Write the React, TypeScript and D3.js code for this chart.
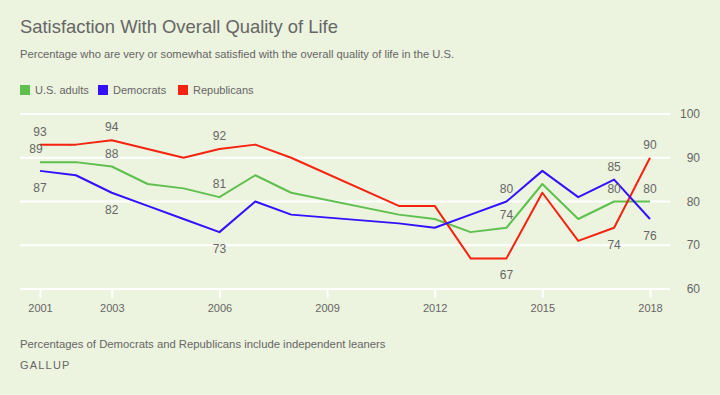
import { useEffect, useRef } from "react";
import * as d3 from "d3";

// Gallup - satisfaction with overall quality of life
const years = [2001, 2002, 2003, 2004, 2005, 2006, 2007, 2008, 2011, 2012, 2013, 2014, 2015, 2016, 2017, 2018];
const adults = [89, 89, 88, 84, 83, 81, 86, 82, 77, 76, 73, 74, 84, 76, 80, 80];
const democrats = [87, 86, 82, 79, 76, 73, 80, 77, 75, 74, 77, 80, 87, 81, 85, 76];
const republicans = [93, 93, 94, 92, 90, 92, 93, 90, 79, 79, 67, 67, 82, 71, 74, 90];

const xTicks = [2001, 2003, 2006, 2009, 2012, 2015, 2018];
const yTicks = [60, 70, 80, 90, 100];

const seriesNames = ["U.S. adults", "Democrats", "Republicans"];
const colors = ["#5fc04f", "#3311ff", "#f5230f"];

// which years get a value label, and whether it sits above ("a") or below ("b")
const labelYears = [2001, 2003, 2006, 2014, 2017, 2018];
const labelPos = [
  ["a", "a", "a", "a", "a", "a"],
  ["b", "b", "b", "a", "a", "b"],
  ["a", "a", "a", "b", "b", "a"],
];

const App = () => {
  const ref = useRef<SVGSVGElement>(null);

  useEffect(() => {
    draw();
  }, []);

  const draw = () => {
    const width = 720;
    const height = 395;
    const font = "Liberation Sans, Arial, sans-serif";
    const textColor = "#666";

    const svg = d3.select(ref.current).attr("width", width).attr("height", height);
    svg.selectAll("*").remove();

    svg.append("rect").attr("width", width).attr("height", height).attr("fill", "#ecf3de");

    // header
    svg
      .append("text")
      .attr("x", 20)
      .attr("y", 33)
      .attr("font-family", font)
      .attr("font-size", 18.4)
      .attr("fill", textColor)
      .text("Satisfaction With Overall Quality of Life");

    svg
      .append("text")
      .attr("x", 20)
      .attr("y", 58)
      .attr("font-family", font)
      .attr("font-size", 11.2)
      .attr("fill", textColor)
      .text("Percentage who are very or somewhat satisfied with the overall quality of life in the U.S.");

    // legend
    const legendX = [20, 98, 178];
    const legend = svg.append("g");
    seriesNames.forEach((name, i) => {
      legend
        .append("rect")
        .attr("x", legendX[i])
        .attr("y", 85)
        .attr("width", 10)
        .attr("height", 10)
        .attr("fill", colors[i]);
      legend
        .append("text")
        .attr("x", legendX[i] + 15)
        .attr("y", 94)
        .attr("font-family", font)
        .attr("font-size", 11)
        .attr("fill", textColor)
        .text(name);
    });

    const xScale = d3.scaleLinear().domain([2001, 2018]).range([40, 650]);
    const yScale = d3.scaleLinear().domain([60, 100]).range([289, 114]);

    // gridlines + right axis labels
    const grid = svg.append("g");
    grid
      .selectAll("line")
      .data(yTicks)
      .join("line")
      .attr("x1", 20)
      .attr("x2", 670)
      .attr("y1", (d) => yScale(d))
      .attr("y2", (d) => yScale(d))
      .attr("stroke", "#fff")
      .attr("stroke-width", 2);
    grid
      .selectAll("text")
      .data(yTicks)
      .join("text")
      .attr("x", 700)
      .attr("y", (d) => yScale(d))
      .attr("dy", "0.35em")
      .attr("text-anchor", "end")
      .attr("font-family", font)
      .attr("font-size", 12)
      .attr("fill", textColor)
      .text((d) => d);

    // x axis
    const xAxis = svg
      .append("g")
      .attr("transform", `translate(0,${yScale(60)})`)
      .call(d3.axisBottom(xScale).tickValues(xTicks).tickFormat(d3.format("d")).tickSize(9).tickPadding(6));
    xAxis.select(".domain").remove();
    xAxis.selectAll(".tick line").attr("stroke", "#fff").attr("stroke-width", 2);
    xAxis
      .selectAll(".tick text")
      .attr("font-family", font)
      .attr("font-size", 11)
      .attr("fill", textColor);

    // lines
    const allSeries = [adults, democrats, republicans];
    const line = d3
      .line<number>()
      .x((_, i) => xScale(years[i]))
      .y((d) => yScale(d));

    [0, 2, 1].forEach((s) => {
      svg
        .append("path")
        .datum(allSeries[s])
        .attr("d", line)
        .attr("fill", "none")
        .attr("stroke", colors[s])
        .attr("stroke-width", 2)
        .attr("stroke-linejoin", "round");
    });

    // value labels
    const labels = svg.append("g");
    allSeries.forEach((vals, s) => {
      labelYears.forEach((yr, k) => {
        const v = vals[years.indexOf(yr)];
        const above = labelPos[s][k] === "a";
        labels
          .append("text")
          .attr("x", xScale(yr) - (yr === 2001 && s === 0 ? 4 : 0))
          .attr("y", yScale(v) + (above ? -9 : 21))
          .attr("text-anchor", "middle")
          .attr("font-family", font)
          .attr("font-size", 12)
          .attr("fill", textColor)
          .text(v);
      });
    });

    // footer
    svg
      .append("text")
      .attr("x", 20)
      .attr("y", 348)
      .attr("font-family", font)
      .attr("font-size", 11.3)
      .attr("fill", textColor)
      .text("Percentages of Democrats and Republicans include independent leaners");

    svg
      .append("text")
      .attr("x", 20)
      .attr("y", 369)
      .attr("font-family", font)
      .attr("font-size", 11)
      .attr("letter-spacing", 1.2)
      .attr("fill", textColor)
      .text("GALLUP");
  };

  return (
    <div style={{ position: "absolute", left: 0, top: 0 }}>
      <svg ref={ref} style={{ display: "block" }}></svg>
    </div>
  );
};

export default App;
